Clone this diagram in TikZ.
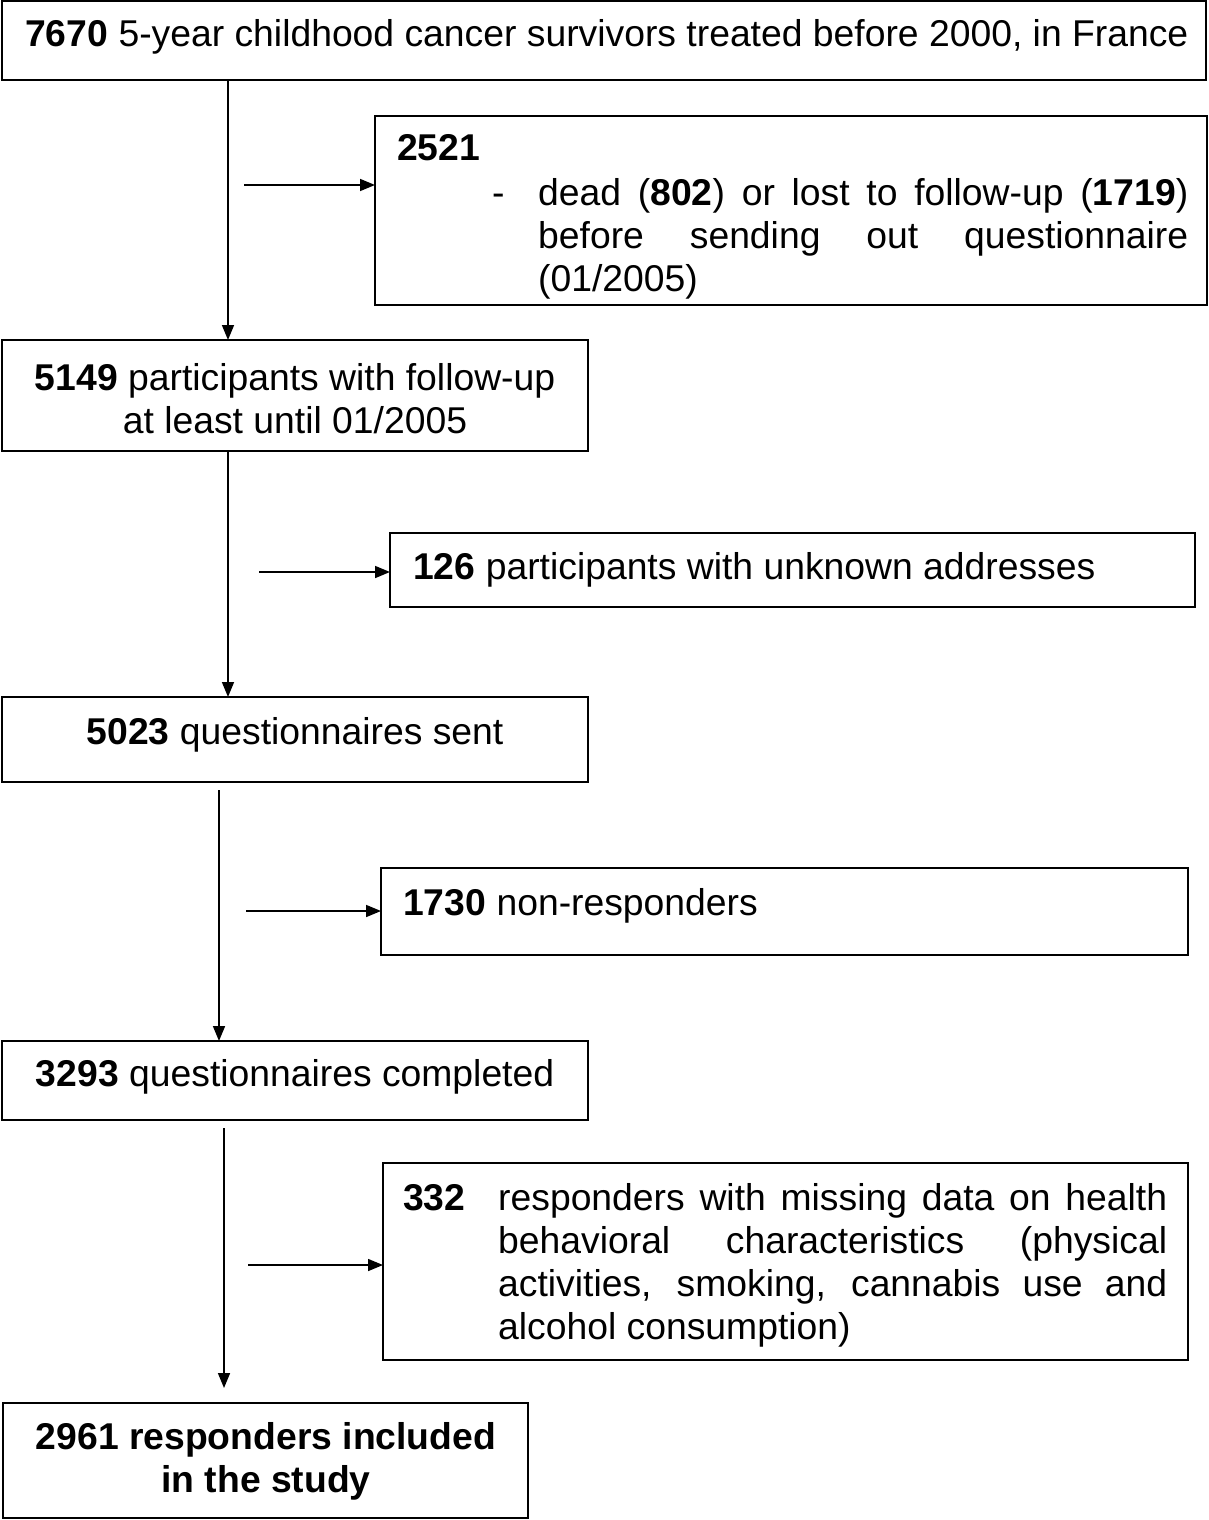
\documentclass[tikz,border=0pt]{standalone}
\usepackage{fontspec}
\setmainfont{Liberation Sans}
\usetikzlibrary{arrows.meta}
\begin{document}
\begin{tikzpicture}[x=1pt,y=-1pt,
  box/.style={draw, line width=1.6pt, rectangle, inner sep=0pt, outer sep=0pt, anchor=north west},
  txt/.style={inner sep=0pt, anchor=base west, font=\fontsize{37.3}{43}\selectfont},
  ctxt/.style={inner sep=0pt, anchor=base, align=center, font=\fontsize{37.3}{43}\selectfont},
  arr/.style={line width=1.6pt, -{Triangle[length=15pt,width=12pt]}}]
\useasboundingbox (0,0) rectangle (1208,1520);
% boxes
\node[box, minimum width=1204pt, minimum height=79pt] (b1) at (2,1) {};
\node[box, minimum width=832pt, minimum height=189pt] (b2) at (375,116) {};
\node[box, minimum width=586pt, minimum height=111pt] (b3) at (2,340) {};
\node[box, minimum width=805pt, minimum height=74pt] (b4) at (390,533) {};
\node[box, minimum width=586pt, minimum height=85pt] (b5) at (2,697) {};
\node[box, minimum width=807pt, minimum height=87pt] (b6) at (381,868) {};
\node[box, minimum width=586pt, minimum height=79pt] (b7) at (2,1041) {};
\node[box, minimum width=805pt, minimum height=197pt] (b8) at (383,1163) {};
\node[box, minimum width=525pt, minimum height=115pt] (b9) at (3,1403) {};
% texts
\node[txt] (t1) at (25,47) {\textbf{7670} 5-year childhood cancer survivors treated before 2000, in France};
\node[txt] (t2a) at (397,160) {\textbf{2521}};
\node[txt] (t2b) at (492,205) {-};
\node[txt, align=left] (t2c) at (538,291) {\makebox[650pt][s]{dead (\textbf{802}) or lost to follow-up (\textbf{1719})}\\\makebox[650pt][s]{before sending out questionnaire}\\(01/2005)};
\node[ctxt] (t3) at (295,433) {\textbf{5149} participants with follow-up\\at least until 01/2005};
\node[txt] (t4) at (413,579) {\textbf{126} participants with unknown addresses};
\node[ctxt] (t5) at (295,744) {\textbf{5023} questionnaires sent};
\node[txt] (t6) at (403,915) {\textbf{1730} non-responders};
\node[ctxt] (t7) at (295,1086) {\textbf{3293} questionnaires completed};
\node[txt] (t8a) at (403,1210) {\textbf{332}};
\node[txt, align=left] (t8b) at (498,1339) {\makebox[669pt][s]{responders with missing data on health}\\\makebox[669pt][s]{behavioral characteristics (physical}\\\makebox[669pt][s]{activities, smoking, cannabis use and}\\alcohol consumption)};
\node[ctxt] (t9) at (266,1492) {\bfseries 2961 responders included\\\bfseries in the study};
% connectors
\coordinate (v1) at (228,0);
\coordinate (v2) at (219,0);
\coordinate (v3) at (224,0);
\draw[arr] (b1.south -| v1) -- (b3.north -| v1);
\draw[arr] (b3.south -| v1) -- (b5.north -| v1);
\draw[arr, shorten <=8pt] (b5.south -| v2) -- (b7.north -| v2);
\draw[arr, shorten <=8pt, shorten >=15pt] (b7.south -| v3) -- (b9.north -| v3);
\coordinate (h1) at (244,185);
\coordinate (h2) at (259,572);
\coordinate (h3) at (246,911);
\coordinate (h4) at (248,1265);
\draw[arr] (h1) -- (b2.west |- h1);
\draw[arr] (h2) -- (b4.west |- h2);
\draw[arr] (h3) -- (b6.west |- h3);
\draw[arr] (h4) -- (b8.west |- h4);
\end{tikzpicture}
\end{document}
